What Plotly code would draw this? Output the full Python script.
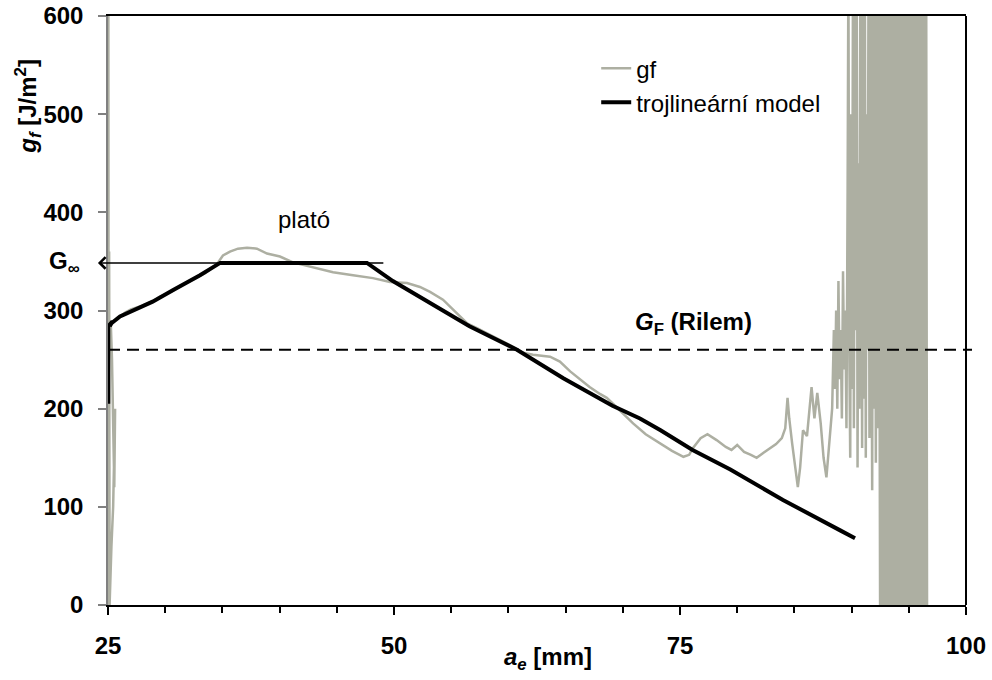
import plotly.graph_objects as go

# ---- data ----
gf_a = [25.03, 25.03, 25.06, 25.10, 25.14, 25.30, 25.45, 25.62, 25.55, 25.35, 25.25,
        25.5, 26.0, 26.5, 27.0, 28.0, 29.0, 29.5, 30.5, 31.5, 32.5, 33.5, 34.5,
        35.05, 35.66, 36.36, 37.15, 38.02, 38.9, 40.03, 41.17, 42.92, 44.67, 46.42,
        48.16, 49.65, 51.14, 52.27, 53.15, 54.28, 54.9, 56.38, 57.25, 59.27, 60.4,
        61.28, 62.15, 63.64, 64.5, 65.4, 66.26, 67.1, 68.0, 68.6, 69.14, 69.9, 70.9,
        72.0, 73.25, 74.3, 75.3, 75.8, 76.14, 76.8, 77.4, 78.2, 79.0, 79.5, 80.0,
        80.6, 81.2, 81.7, 82.3, 82.9, 83.4, 83.9, 84.2, 84.4, 84.55, 84.8, 85.1,
        85.3, 85.5, 85.75, 86.1, 86.3, 86.5, 86.75, 87.0, 87.3, 87.55, 87.8, 88.05,
        88.3,
        88.45, 88.55, 88.65, 88.75, 88.85, 88.95, 89.05, 89.15, 89.25, 89.35, 89.45,
        89.55, 89.65, 89.72, 89.80, 89.88, 89.96, 90.04, 90.12, 90.20, 90.28, 90.36,
        90.44, 90.52, 90.60, 90.68, 90.76, 90.84, 90.92, 91.00, 91.08, 91.16, 91.24,
        91.32, 91.40, 91.48, 91.56, 91.64, 91.72, 91.80, 91.88, 91.96, 92.04, 92.12,
        92.20, 92.28, 92.36, 92.44,
        92.50, 92.58, 92.66, 92.74, 92.82, 92.90, 93.02, 93.10, 93.18, 93.26, 93.34,
        93.42, 93.50, 93.62, 93.72, 93.80, 93.88, 93.96, 94.04, 94.12, 94.20, 94.28,
        94.36, 94.44, 94.52, 94.60, 94.68, 94.76, 94.84, 94.92, 95.00, 95.08, 95.16,
        95.24, 95.32, 95.40, 95.48, 95.56, 95.64, 95.72, 95.80, 95.88, 95.96, 96.04,
        96.12, 96.20, 96.28, 96.36, 96.44, 96.52, 96.60]
gf_g = [0, 650, 0, 360, 0, 60, 100, 200, 120, 250, 285,
        289, 294, 298, 301, 305, 310, 314, 319, 326, 332, 338, 347,
        356, 360, 363, 364, 363, 358, 355, 349, 344, 339, 336,
        333, 329, 328, 324, 319, 311, 304, 287, 282, 270, 263,
        257, 255, 253, 248, 238, 230, 222, 215, 211, 205, 196, 185,
        174, 165, 157, 151, 153, 160, 170, 174, 168, 161, 158, 163,
        156, 153, 150, 155, 160, 164, 170, 180, 211, 190, 165, 135,
        120, 140, 178, 172, 200, 222, 190, 216, 185, 150, 130, 165,
        200,
        280, 220, 300, 200, 330, 230, 280, 190, 340, 240, 300,
        180, 420, 650, 260, 150, 500, 220, 650, 180, 600, 280,
        650, 140, 450, 200, 650, 250, 160, 650, 210, 650, 150,
        500, 260, 650, 170, 650, 230, 117, 650, 200, 650, 145,
        650, 180, 650, 150,
        -50, 650, -50, 650, -50, 650, -50, 650, -50, 650, -50,
        650, -50, 650, -50, 650, -50, 650, -50, 650, -50, 650,
        -50, 650, -50, 650, -50, 650, -50, 650, -50, 650, -50,
        650, -50, 650, -50, 650, -50, 650, -50, 650, -50, 650,
        -50, 650, -50, 650, -50, 650, -50]

model_a = [25.02, 25.02, 25.4, 25.15, 25.3, 26.05, 28.9, 30.7, 33.04, 34.8,
           41.0, 47.64, 49.9, 53.1, 56.6, 60.75, 64.8, 69.1,
           71.5, 73.3, 76.1, 79.4, 84.0, 89.0, 90.3]
model_g = [205, 284, 289, 284, 287, 294, 309, 321, 336, 348.5,
           348.5, 348.5, 330, 308, 284, 260, 231, 203,
           190, 178, 158, 138, 107, 76, 68]

G_inf = 348.5          # plateau level (arrow)
G_inf_arrow_tail = 49.2
G_inf_arrow_head = 24.12
G_F = 260              # Rilem value (dashed line)

x_ticks = [25, 50, 75, 100]
y_ticks = [0, 100, 200, 300, 400, 500, 600]

FONT = "Liberation Sans, Arial, sans-serif"
GRAY = "#ADAFA2"

fig = go.Figure()
fig.add_trace(go.Scatter(x=gf_a, y=gf_g, mode="lines", name="gf",
                         line=dict(color=GRAY, width=2.5), legendgroup="a"))
fig.add_trace(go.Scatter(x=model_a, y=model_g, mode="lines", name="trojlineární model",
                         line=dict(color="black", width=4), legendgroup="b"))

fig.add_shape(type="line", xref="paper", yref="y", x0=0, x1=1.007, y0=G_F, y1=G_F,
              line=dict(color="black", width=2, dash="12px,7px"))
fig.add_shape(type="line", xref="paper", yref="paper", x0=1, x1=1, y0=0, y1=1,
              line=dict(color="black", width=2))

fig.add_annotation(x=G_inf_arrow_head, y=G_inf, ax=G_inf_arrow_tail, ay=G_inf,
                   xref="x", yref="y", axref="x", ayref="y", text="",
                   showarrow=True, arrowhead=4, arrowsize=1.5, arrowwidth=1.5,
                   arrowcolor="black")
fig.add_annotation(x=0, xref="paper", xanchor="right", xshift=-26, y=G_inf, yref="y",
                   yanchor="middle",
                   text="<b>G<sub>∞</sub></b>", showarrow=False,
                   font=dict(family=FONT, size=24, color="black"))
fig.add_annotation(x=70.9, y=287, xref="x", yref="y", xanchor="left", yanchor="middle",
                   text="<b><i>G</i><sub>F</sub> (Rilem)</b>", showarrow=False,
                   font=dict(family=FONT, size=24, color="black"))
fig.add_annotation(x=42.1, y=393, xref="x", yref="y", xanchor="center", yanchor="middle",
                   text="plató", showarrow=False,
                   font=dict(family=FONT, size=24, color="black"))
fig.add_annotation(x=63.46, y=0, xref="x", yref="paper", yshift=-53,
                   xanchor="center", yanchor="middle",
                   text="<b><i>a</i><sub><i>e</i></sub> [mm]</b>", showarrow=False,
                   font=dict(family=FONT, size=24, color="black"))
fig.add_annotation(x=0, xref="paper", xshift=-80, y=0.846, yref="paper",
                   xanchor="center", yanchor="middle",
                   text="<b><i>g<sub>f</sub></i> [J/m<sup>2</sup>]</b>", showarrow=False,
                   textangle=-90, font=dict(family=FONT, size=24, color="black"))

fig.update_xaxes(range=[25, 100], tickvals=x_ticks, ticks="outside", ticklen=8,
                 tickwidth=1.5, tickcolor="black", showline=True, linecolor="black",
                 linewidth=2, mirror=True, showgrid=False, zeroline=False,
                 ticklabelstandoff=10, automargin=False,
                 tickfont=dict(family=FONT, size=24, color="black", weight="bold"),
                 minor=dict(dtick=5, tick0=25, ticks="outside", ticklen=6,
                            tickwidth=1.5, tickcolor="black", showgrid=False))
fig.update_yaxes(range=[0, 600], tickvals=y_ticks, ticks="outside", ticklen=8,
                 tickwidth=1.5, tickcolor="#808080", showline=True, linecolor="#808080",
                 linewidth=1.5, showgrid=False, zeroline=False, ticklabelstandoff=10,
                 automargin=False,
                 tickfont=dict(family=FONT, size=24, color="black", weight="bold"))

fig.update_layout(
    width=992, height=680,
    margin=dict(l=108, r=26, t=16, b=75),
    plot_bgcolor="white", paper_bgcolor="white",
    font=dict(family=FONT, size=24, color="black"),
    showlegend=True,
    legend=dict(x=0.569, y=0.949, xanchor="left", yanchor="top",
                bgcolor="rgba(0,0,0,0)", font=dict(family=FONT, size=24),
                traceorder="grouped", tracegroupgap=0, itemwidth=30),
)

fig.write_html("out.html")
